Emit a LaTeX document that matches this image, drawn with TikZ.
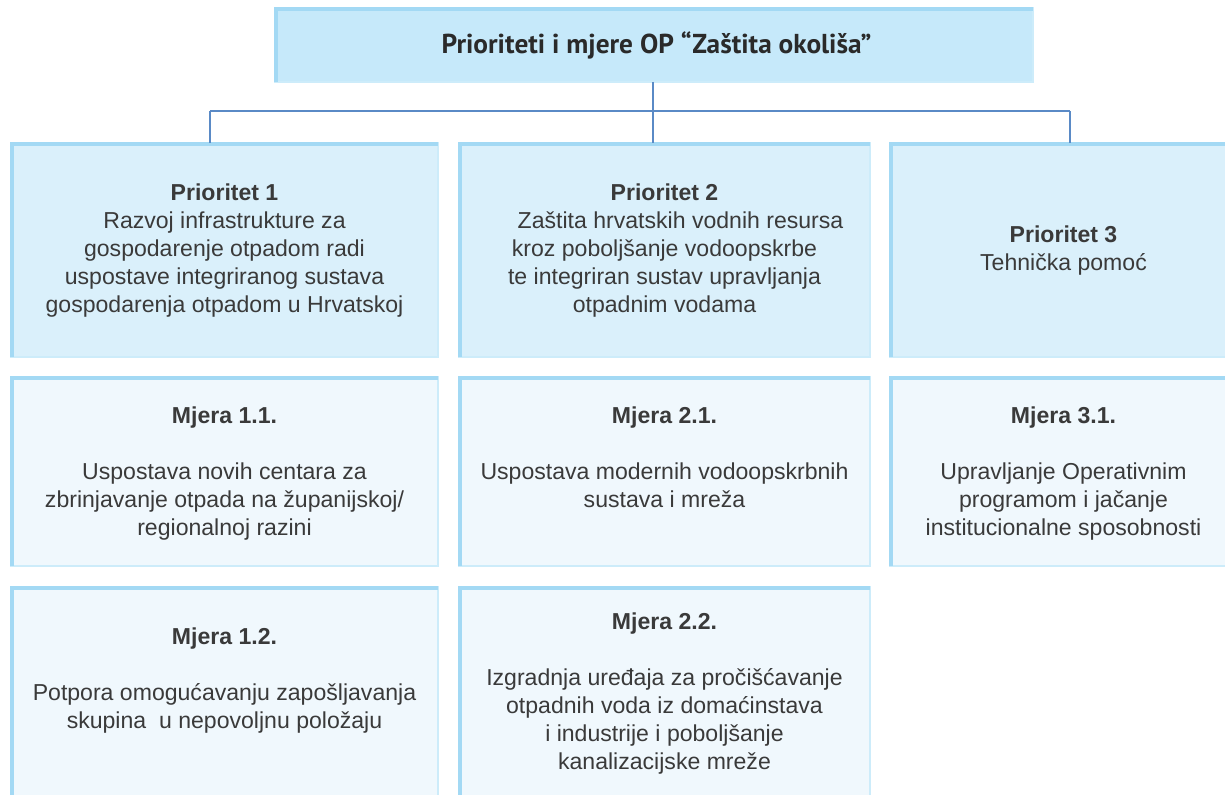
\documentclass[tikz,border=0pt]{standalone}
\usepackage{fontspec}
\setmainfont{Liberation Sans}
\newfontfamily\titlefont{PT Sans}
\usetikzlibrary{fit}
\definecolor{topfill}{HTML}{C6E9FA}
\definecolor{prifill}{HTML}{DAF0FB}
\definecolor{mjfill}{HTML}{F0F8FD}
\definecolor{edgedark}{HTML}{A3D9F4}
\definecolor{edgelight}{HTML}{CDECFA}
\definecolor{linkc}{HTML}{5A8AC6}
\definecolor{txtc}{HTML}{3A3A3A}
\definecolor{titc}{HTML}{2A2A2A}
\tikzset{
  boxbase/.style={inner sep=0pt, outer sep=0pt, draw=edgelight, line width=2pt},
  topbox/.style={boxbase, fill=topfill},
  pribox/.style={boxbase, fill=prifill},
  mjbox/.style={boxbase, fill=mjfill},
  darkedge/.style={draw=edgedark, line width=3pt},
  txt/.style={align=center, text=txtc, inner sep=0pt, anchor=north,
    font=\fontsize{17.3}{21}\selectfont},
  link/.style={draw=linkc, line width=1.5pt},
}
\begin{document}
\begin{tikzpicture}[x=0.75pt,y=-0.75pt]
\useasboundingbox (0,0) rectangle (1225,795);
% boxes
\node[topbox, fit={(275,8)(1033,82)}] (top) {};
\node[pribox, fit={(11,143)(438,357)}] (p1) {};
\node[pribox, fit={(459,143)(870,357)}] (p2) {};
\node[pribox, fit={(890,143)(1228,357)}] (p3) {};
\node[mjbox, fit={(11,377)(438,566)}] (m11) {};
\node[mjbox, fit={(459,377)(870,566)}] (m21) {};
\node[mjbox, fit={(890,377)(1228,566)}] (m31) {};
\node[mjbox, fit={(11,587)(438,800)}] (m12) {};
\node[mjbox, fit={(459,587)(870,800)}] (m22) {};
\foreach \b in {top,p1,p2,p3,m11,m21,m31,m12,m22}{
  \draw[darkedge] ([xshift=0.75pt]\b.south west) -- ([xshift=0.75pt,yshift=-0.75pt]\b.north west) -- ([yshift=-0.75pt]\b.north east);
}
% connectors
\coordinate (jc) at (653,111);
\coordinate (jl) at (210,111);
\coordinate (jr) at (1070,111);
\draw[link] (top.south -| jc) -- (p2.north -| jc);
\draw[link] (jl) -- (jr);
\draw[link] (jl) -- (p1.north -| jl);
\draw[link] (jr) -- (p3.north -| jr);
% texts
\node[text=titc, inner sep=0pt, anchor=base, font=\titlefont\bfseries\fontsize{20.5}{21}\selectfont] (tt) at (656.5,54) {Prioriteti i mjere OP “Zaštita okoliša”};
\node[txt] (p1t) at (224.5,184) {\textbf{Prioritet 1}\\Razvoj infrastrukture za\\gospodarenje otpadom radi\\uspostave integriranog sustava\\gospodarenja otpadom u Hrvatskoj};
\node[txt] (p2t) at (664.5,184) {\textbf{Prioritet 2}\\\hspace*{24pt}Zaštita hrvatskih vodnih resursa\\kroz poboljšanje vodoopskrbe\\te integriran sustav upravljanja\\otpadnim vodama};
\node[txt] (p3t) at (1063.5,226) {\textbf{Prioritet 3}\\Tehnička pomoć};
\node[txt] (m11t) at (224.5,407) {\textbf{Mjera 1.1.}\\[21pt]Uspostava novih centara za\\zbrinjavanje otpada na županijskoj/\\regionalnoj razini};
\node[txt] (m21t) at (664.5,407) {\textbf{Mjera 2.1.}\\[21pt]Uspostava modernih vodoopskrbnih\\sustava i mreža};
\node[txt] (m31t) at (1063.5,407) {\textbf{Mjera 3.1.}\\[21pt]Upravljanje Operativnim\\programom i jačanje\\institucionalne sposobnosti};
\node[txt] (m12t) at (224.5,628) {\textbf{Mjera 1.2.}\\[21pt]Potpora omogućavanju zapošljavanja\\skupina\ \ u nepovoljnu položaju};
\node[txt] (m22t) at (664.5,613) {\textbf{Mjera 2.2.}\\[21pt]Izgradnja uređaja za pročišćavanje\\otpadnih voda iz domaćinstava\\i industrije i poboljšanje\\kanalizacijske mreže};
\end{tikzpicture}
\end{document}
